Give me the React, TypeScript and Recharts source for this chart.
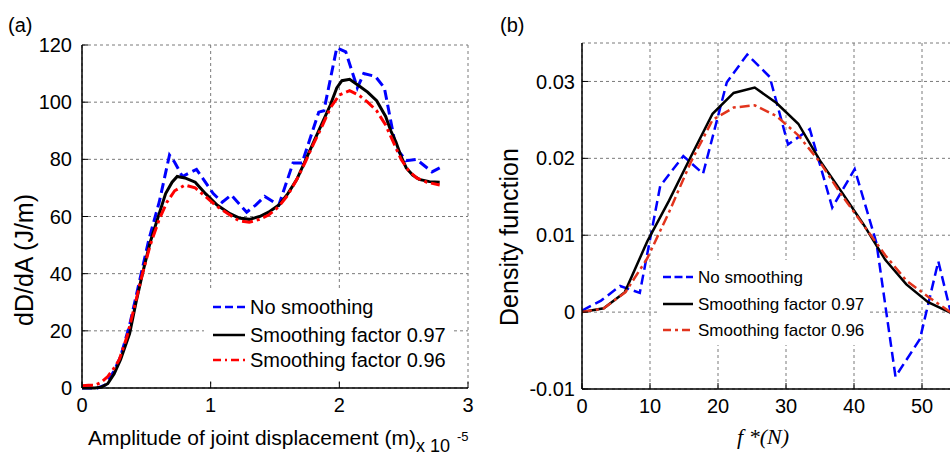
import React from 'react';
import { LineChart, Line, XAxis, YAxis, CartesianGrid, Legend } from 'recharts';

const FONT = '"Liberation Sans", Arial, Helvetica, sans-serif';
const SERIF = '"Liberation Serif", "Times New Roman", serif';

// ---------- Panel (a) ----------
const aXTicks = [0, 1, 2, 3];
const aYTicks = [0, 20, 40, 60, 80, 100, 120];

const aBlueX = [0, 0.12, 0.18, 0.25, 0.3, 0.37, 0.45, 0.52, 0.6, 0.68, 0.72, 0.78, 0.89, 1.02, 1.09, 1.16, 1.28, 1.35, 1.42, 1.53, 1.64, 1.71, 1.84, 1.88, 1.98, 2.05, 2.14, 2.19, 2.28, 2.35, 2.44, 2.52, 2.6, 2.72, 2.78];
const aBlueY = [0, 0, 1, 6, 11, 22, 38, 52, 65, 81.5, 79, 74, 76.5, 68, 65, 67.5, 61.5, 64, 67, 64, 78.7, 78.7, 96.5, 97, 119, 117.6, 105, 110, 109, 105, 84, 79.5, 80, 75.6, 77];

const aBlackX = [0, 0.1, 0.15, 0.2, 0.25, 0.3, 0.37, 0.42, 0.47, 0.53, 0.6, 0.65, 0.7, 0.74, 0.8, 0.88, 0.96, 1.05, 1.15, 1.22, 1.3, 1.38, 1.45, 1.53, 1.6, 1.67, 1.74, 1.8, 1.87, 1.93, 1.98, 2.02, 2.08, 2.16, 2.22, 2.29, 2.36, 2.4, 2.44, 2.48, 2.52, 2.57, 2.62, 2.7, 2.78];
const aBlackY = [0, 0, 0.3, 1.5, 5, 10, 19, 30, 40, 51, 61, 68, 72, 74, 73.5, 72, 68, 64, 61, 59.5, 59, 60, 61.5, 64, 68, 73, 80, 86, 93, 99, 105, 107.5, 108, 105.5, 103.5, 100.5, 95, 90, 86, 81, 77, 74.5, 73, 72.2, 72];

const aRedX = [0, 0.05, 0.1, 0.15, 0.2, 0.25, 0.29, 0.35, 0.4, 0.47, 0.53, 0.6, 0.66, 0.72, 0.8, 0.88, 0.96, 1.05, 1.15, 1.22, 1.3, 1.38, 1.45, 1.53, 1.6, 1.67, 1.74, 1.8, 1.87, 1.93, 2.0, 2.08, 2.15, 2.22, 2.29, 2.36, 2.42, 2.48, 2.54, 2.6, 2.68, 2.78];
const aRedY = [0.8, 1, 1, 2, 4, 7, 10, 18, 27, 40, 50, 59, 65, 69, 71, 70, 67, 63.5, 60.5, 58.5, 58, 59, 60.5, 63.5, 67.5, 73, 79.5, 85.5, 92, 98, 102.5, 104, 102.5, 100, 97, 92, 86, 80, 76, 73.5, 72, 71];

// ---------- Panel (b) ----------
const bXTicks = [0, 10, 20, 30, 40, 50];
const bYTicks = [-0.01, 0, 0.01, 0.02, 0.03];

const bBlueX = [0, 2.8, 5.6, 8.5, 11.5, 14.9, 17.8, 21.3, 24.3, 27.6, 30.3, 33.5, 36.8, 40.1, 43.3, 46.1, 49.7, 52.4, 55.6, 58.8];
const bBlueY = [0.0002, 0.0015, 0.0034, 0.0025, 0.0164, 0.0203, 0.018, 0.0299, 0.0335, 0.0306, 0.0218, 0.0238, 0.0136, 0.0186, 0.009, -0.0084, -0.0035, 0.0066, -0.005, -0.003];

const bBlackX = [0, 3.2, 6.3, 9.6, 12.8, 16, 19.2, 22.3, 25.4, 28.6, 31.8, 35, 38.2, 41.4, 44.6, 47.7, 50.9, 54, 57.2];
const bBlackY = [0, 0.0005, 0.0026, 0.0092, 0.0145, 0.0202, 0.0258, 0.0285, 0.0292, 0.0272, 0.0245, 0.0197, 0.0156, 0.0114, 0.0068, 0.0036, 0.0013, 0, -0.0008];

const bRedX = [0, 3.2, 6.4, 9.6, 12.8, 16, 19.2, 22.3, 25.4, 28.6, 31.8, 35, 38.2, 41.4, 44.6, 47.7, 50.9, 54, 57.2];
const bRedY = [0, 0.0005, 0.0026, 0.007, 0.013, 0.0195, 0.025, 0.0266, 0.0269, 0.0255, 0.023, 0.0195, 0.0152, 0.0113, 0.0074, 0.0041, 0.002, 0.0001, -0.001];

const seriesNames = ['No smoothing', 'Smoothing factor 0.97', 'Smoothing factor 0.96'];

const toPts = (xs: number[], ys: number[]) => xs.map((x, i) => ({ x, y: ys[i] }));

type LegendItem = { name: string; color: string; dash?: string };

function makeLegend(items: LegendItem[], opts: { w: number; h: number; x1: number; x2: number; tx: number; rows: number[]; fs: number; sw: number }) {
  return () => (
    <svg width={opts.w} height={opts.h} style={{ display: 'block' }}>
      <rect x={0} y={0} width={opts.w} height={opts.h} fill="#fff" />
      {items.map((it, i) => (
        <g key={it.name}>
          <line x1={opts.x1} x2={opts.x2} y1={opts.rows[i]} y2={opts.rows[i]} stroke={it.color} strokeWidth={opts.sw} strokeDasharray={it.dash} />
          <text x={opts.tx} y={opts.rows[i]} dy="0.35em" fontSize={opts.fs} fontFamily={FONT} fill="#000">{it.name}</text>
        </g>
      ))}
    </svg>
  );
}

const tickStyle = { fontSize: 20, fill: '#000', fontFamily: FONT };
const axisLineStyle = { stroke: '#000', strokeWidth: 1.5 };

export default function App() {
  const aBlue = toPts(aBlueX, aBlueY);
  const aBlack = toPts(aBlackX, aBlackY);
  const aRed = toPts(aRedX, aRedY);
  const bBlue = toPts(bBlueX, bBlueY);
  const bBlack = toPts(bBlackX, bBlackY);
  const bRed = toPts(bRedX, bRedY);

  const legendA = makeLegend(
    [
      { name: seriesNames[0], color: '#0000ff', dash: '8 4' },
      { name: seriesNames[1], color: '#000000' },
      { name: seriesNames[2], color: '#ff0000', dash: '8 4 2 4' },
    ],
    { w: 250, h: 88, x1: 9, x2: 41, tx: 46, rows: [17, 45, 70], fs: 20, sw: 2.5 }
  );
  const legendB = makeLegend(
    [
      { name: seriesNames[0], color: '#0000ff', dash: '8 3.5' },
      { name: seriesNames[1], color: '#000000' },
      { name: seriesNames[2], color: '#e2341d', dash: '8 4 3 4' },
    ],
    { w: 212, h: 85, x1: 6, x2: 36, tx: 41, rows: [17, 44, 70], fs: 17, sw: 2.5 }
  );

  return (
    <div style={{ position: 'fixed', left: 0, top: 0, width: 950, height: 455, overflow: 'hidden', background: '#fff' }}>
      <div style={{ position: 'absolute', left: 0, top: 0 }}>
        <LineChart width={480} height={455} margin={{ top: 45, right: 12, bottom: 37, left: 22 }}>
          <CartesianGrid stroke="#7a7a7a" strokeDasharray="3 3" />
          <XAxis
            xAxisId={0}
            type="number"
            dataKey="x"
            domain={[0, 3]}
            ticks={aXTicks}
            allowDataOverflow
            height={30}
            tickSize={-6}
            tickMargin={16}
            axisLine={axisLineStyle}
            tickLine={{ stroke: '#000' }}
            tick={tickStyle}
            label={() => (
              <g>
                <text x={88} y={445} fontSize={21} fontFamily={FONT} fill="#000">Amplitude of joint displacement (m)</text>
                <text x={416} y={452} fontSize={18} fontFamily={FONT} fill="#000">x 10</text>
                <text x={457} y={441} fontSize={13} fontFamily={FONT} fill="#000">-5</text>
              </g>
            )}
          />
          <XAxis xAxisId="top" orientation="top" type="number" domain={[0, 3]} ticks={aXTicks} height={0} tick={false} tickSize={-6} axisLine={axisLineStyle} tickLine={{ stroke: '#000' }} />
          <YAxis
            yAxisId={0}
            type="number"
            domain={[0, 120]}
            ticks={aYTicks}
            width={60}
            tickSize={-6}
            tickMargin={16}
            axisLine={axisLineStyle}
            tickLine={{ stroke: '#000' }}
            tick={tickStyle}
            label={() => (
              <text x={33} y={260} transform="rotate(-90 33 260)" textAnchor="middle" fontSize={25} fontFamily={FONT} fill="#000">dD/dA (J/m)</text>
            )}
          />
          <YAxis yAxisId="right" orientation="right" type="number" domain={[0, 120]} ticks={aYTicks} width={0} tick={false} tickSize={-6} axisLine={axisLineStyle} tickLine={{ stroke: '#000' }} />
          <Line data={aBlue} dataKey="y" name={seriesNames[0]} type="linear" stroke="#0000ff" strokeWidth={3} strokeDasharray="10 5" dot={false} activeDot={false} isAnimationActive={false} />
          <Line data={aBlack} dataKey="y" name={seriesNames[1]} type="linear" stroke="#000000" strokeWidth={3} dot={false} activeDot={false} isAnimationActive={false} />
          <Line data={aRed} dataKey="y" name={seriesNames[2]} type="linear" stroke="#ff0000" strokeWidth={3} strokeDasharray="11 4 3 4" dot={false} activeDot={false} isAnimationActive={false} />
          <Legend
            layout="vertical"
            align="center"
            verticalAlign="middle"
            content={legendA}
            wrapperStyle={{ position: 'absolute', left: 204, top: 290, width: 250, height: 88, margin: 0, padding: 0 }}
          />
        </LineChart>
      </div>
      <div style={{ position: 'absolute', left: 0, top: 0 }}>
        <svg width={950} height={455} style={{ position: 'absolute', left: 0, top: 0, pointerEvents: 'none' }}>
          <text x={8} y={32} fontSize={20} fontFamily={FONT} fill="#000">(a)</text>
          <text x={500} y={32} fontSize={20} fontFamily={FONT} fill="#000">(b)</text>
        </svg>
      </div>
      <div style={{ position: 'absolute', left: 490, top: 0 }}>
        <LineChart width={510} height={455} margin={{ top: 43, right: 10, bottom: 36, left: 22 }}>
          <CartesianGrid stroke="#7a7a7a" strokeDasharray="3 3" />
          <XAxis
            xAxisId={0}
            type="number"
            dataKey="x"
            domain={[0, 60]}
            ticks={bXTicks}
            allowDataOverflow
            height={30}
            tickSize={-6}
            tickMargin={16}
            axisLine={axisLineStyle}
            tickLine={{ stroke: '#000' }}
            tick={tickStyle}
            label={() => (
              <text x={273} y={444} textAnchor="middle" fontSize={22} fontFamily={SERIF} fontStyle="italic" fill="#000">f *(N)</text>
            )}
          />
          <XAxis xAxisId="top" orientation="top" type="number" domain={[0, 60]} ticks={bXTicks} height={0} tick={false} tickSize={-6} axisLine={axisLineStyle} tickLine={{ stroke: '#000' }} />
          <YAxis
            yAxisId={0}
            type="number"
            domain={[-0.01, 0.035]}
            ticks={bYTicks}
            allowDataOverflow
            width={70}
            tickSize={-6}
            tickMargin={13}
            axisLine={axisLineStyle}
            tickLine={{ stroke: '#000' }}
            tick={tickStyle}
            label={() => (
              <text x={28} y={237} transform="rotate(-90 28 237)" textAnchor="middle" fontSize={25} fontFamily={FONT} fill="#000">Density function</text>
            )}
          />
          <Line data={bBlue} dataKey="y" name={seriesNames[0]} type="linear" stroke="#0000ff" strokeWidth={2.5} strokeDasharray="10 5" dot={false} activeDot={false} isAnimationActive={false} />
          <Line data={bBlack} dataKey="y" name={seriesNames[1]} type="linear" stroke="#000000" strokeWidth={2.5} dot={false} activeDot={false} isAnimationActive={false} />
          <Line data={bRed} dataKey="y" name={seriesNames[2]} type="linear" stroke="#e2341d" strokeWidth={2.5} strokeDasharray="10 4 3 4" dot={false} activeDot={false} isAnimationActive={false} />
          <Legend
            layout="vertical"
            align="center"
            verticalAlign="middle"
            content={legendB}
            wrapperStyle={{ position: 'absolute', left: 167, top: 260, width: 212, height: 85, margin: 0, padding: 0 }}
          />
        </LineChart>
      </div>
    </div>
  );
}
